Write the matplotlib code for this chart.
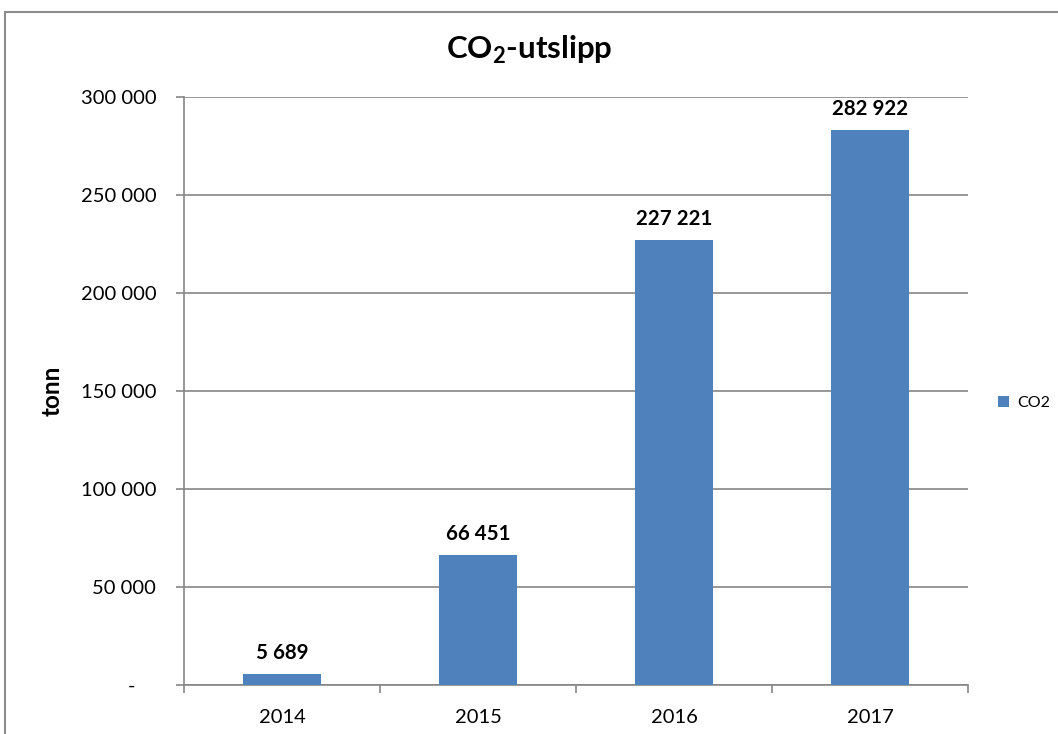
import matplotlib.pyplot as plt
from matplotlib.patches import Rectangle
from matplotlib.ticker import FuncFormatter, FixedLocator

# Utslipp per år (tonn CO2)
years = ["2014", "2015", "2016", "2017"]
co2 = [5689, 66451, 227221, 282922]
y_ticks = [0, 50000, 100000, 150000, 200000, 250000, 300000]

plt.rcParams["font.family"] = ["Lato", "DejaVu Sans"]
plt.rcParams["mathtext.fontset"] = "custom"
plt.rcParams["mathtext.rm"] = "Lato"
plt.rcParams["mathtext.bf"] = "Lato:bold"

bar_color = "#4F81BD"
grid_color = "#868686"


def thousands(v, pos=None):
    if v == 0:
        return "-    "
    return f"{int(v):,}".replace(",", " ")


fig = plt.figure(figsize=(10.58, 7.34), dpi=100)

# ramme rundt diagrammet
fig.patches.append(Rectangle((5 / 1058, -0.1), 1.2, 1 - 12 / 734 + 0.1,
                             transform=fig.transFigure, fill=False,
                             edgecolor="#8C8C8C", linewidth=1.5))

ax = fig.add_axes([184 / 1058, 1 - 685 / 734, 784 / 1058, 588 / 734])

x = list(range(len(years)))
bars = ax.bar(x, co2, width=0.4, color=bar_color, label="CO2", zorder=3)

for xi, v in zip(x, co2):
    ax.annotate(thousands(v), (xi, v), xytext=(0, 8), textcoords="offset points",
                ha="center", va="bottom", fontsize=14.8, fontweight="bold")

ax.set_xlim(-0.5, 3.5)
ax.set_ylim(0, 300000)
ax.set_yticks(y_ticks)
ax.yaxis.set_major_formatter(FuncFormatter(thousands))
ax.set_xticks(x)
ax.set_xticklabels(years)
ax.xaxis.set_minor_locator(FixedLocator([-0.5, 0.5, 1.5, 2.5, 3.5]))

ax.tick_params(axis="x", which="major", length=0, pad=17, labelsize=14.5)
ax.tick_params(axis="x", which="minor", length=6, color=grid_color, width=1.2)
ax.tick_params(axis="y", length=6, color=grid_color, width=1.2, pad=14, labelsize=14.5)

ax.grid(axis="y", color=grid_color, linewidth=1.2, zorder=0)
for side in ["top", "right"]:
    ax.spines[side].set_visible(False)
for side in ["left", "bottom"]:
    ax.spines[side].set_color(grid_color)
    ax.spines[side].set_linewidth(1.2)

ax.set_ylabel("tonn", fontsize=17.5, fontweight="bold", labelpad=12)

fig.text(0.5, 1 - 50 / 734, r"CO$_\mathbf{2}$-utslipp", ha="center", va="center",
         fontsize=22.5, fontweight="bold")

ax.legend(loc="center left", bbox_to_anchor=(1.02, 0.48), frameon=False,
          fontsize=11.5, handlelength=0.7, handleheight=0.7, handletextpad=0.5)

fig.savefig("out.png", dpi=100)
